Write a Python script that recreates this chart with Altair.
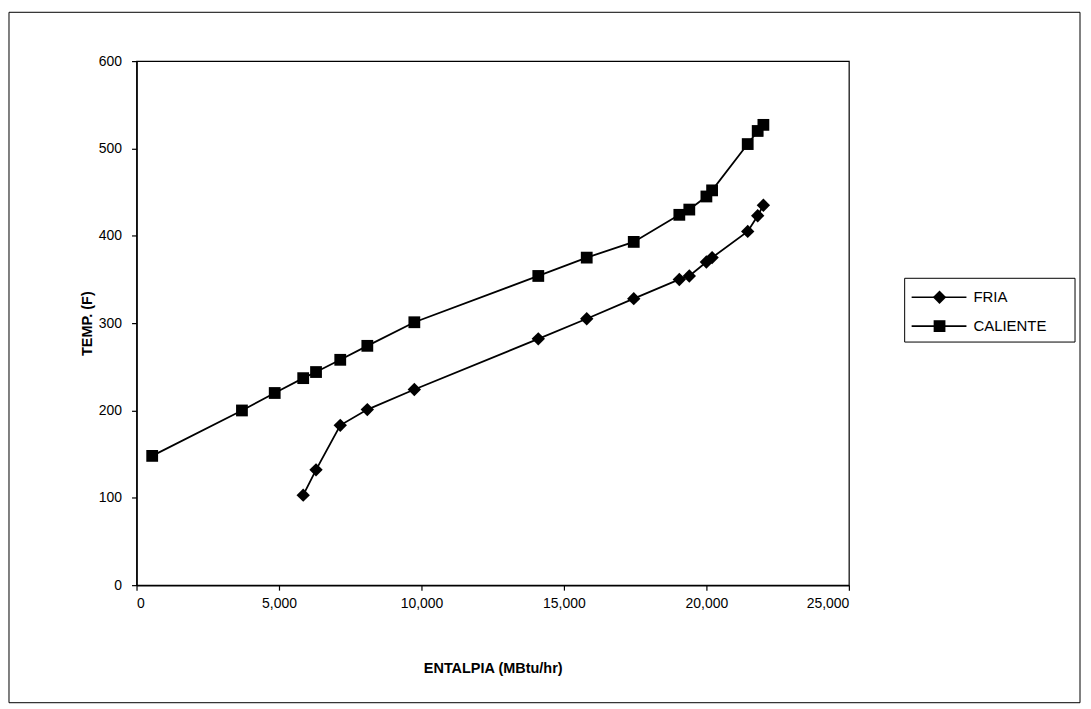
import altair as alt
import pandas as pd

series_names = ["FRIA", "CALIENTE"]

fria_x = [5850, 6300, 7150, 8100, 9750, 14100, 15800, 17450, 19050, 19400, 20000, 20200, 21450, 21800, 22000]
fria_y = [103, 132, 183, 201, 224, 282, 305, 328, 350, 354, 370, 375, 405, 423, 435]

cal_x = [550, 3700, 4850, 5850, 6300, 7150, 8100, 9750, 14100, 15800, 17450, 19050, 19400, 20000, 20200, 21450, 21800, 22000]
cal_y = [148, 200, 220, 237, 244, 258, 274, 301, 354, 375, 393, 424, 430, 445, 452, 505, 520, 527]

x_ticks = [0, 5000, 10000, 15000, 20000, 25000]
y_ticks = [0, 100, 200, 300, 400, 500, 600]

df = pd.concat([
    pd.DataFrame({"series": "FRIA", "h": fria_x, "t": fria_y}),
    pd.DataFrame({"series": "CALIENTE", "h": cal_x, "t": cal_y}),
], ignore_index=True)

FONT = "Liberation Sans"
shape_scale = alt.Scale(domain=series_names, range=["diamond", "square"])

x_enc = alt.X("h:Q", title="ENTALPIA (MBtu/hr)",
              scale=alt.Scale(domain=[0, 25000], nice=False),
              axis=alt.Axis(values=x_ticks, format=",d", labelPadding=6, titlePadding=52))
y_enc = alt.Y("t:Q", title="TEMP. (F)",
              scale=alt.Scale(domain=[0, 600], nice=False),
              axis=alt.Axis(values=y_ticks, labelPadding=10, titlePadding=4))

base = alt.Chart(df)
lines = base.mark_line(color="black", strokeWidth=1.8).encode(
    x=x_enc, y=y_enc, detail="series:N")
points = base.mark_point(filled=True, color="black", opacity=1).encode(
    x=x_enc, y=y_enc,
    shape=alt.Shape("series:N", scale=shape_scale, legend=None),
    size=alt.Size("series:N", scale=alt.Scale(domain=series_names, range=[180, 140]), legend=None))
main = alt.layer(lines, points)

one = pd.DataFrame({"k": [1]})
frame = alt.Chart(one).mark_rect(fill=None, stroke="black", strokeWidth=1).encode(
    x=alt.value(-128), x2=alt.value(947), y=alt.value(-49), y2=alt.value(644))
legend_box = alt.Chart(one).mark_rect(fill="white", stroke="black", strokeWidth=1).encode(
    x=alt.value(771), x2=alt.value(942), y=alt.value(218), y2=alt.value(282))

leg_df = pd.DataFrame({"series": series_names})
leg_y = alt.Y("series:N", scale=alt.Scale(type="point", domain=series_names, range=[237, 266], padding=0), axis=None)
leg_line = alt.Chart(leg_df).mark_rule(color="black", strokeWidth=1.6).encode(
    x=alt.value(778), x2=alt.value(833), y=leg_y)
leg_pt = alt.Chart(leg_df).mark_point(filled=True, color="black", opacity=1).encode(
    x=alt.value(806), y=leg_y,
    shape=alt.Shape("series:N", scale=shape_scale, legend=None),
    size=alt.Size("series:N", scale=alt.Scale(domain=series_names, range=[110, 80]), legend=None))
leg_txt = alt.Chart(leg_df).mark_text(align="left", baseline="middle", font=FONT,
                                      fontSize=15, color="black").encode(
    x=alt.value(840), y=leg_y, text="series:N")

legend = alt.layer(legend_box, leg_line, leg_pt, leg_txt)

chart = alt.layer(frame, main, legend).resolve_scale(y="independent").properties(
    width=715, height=526,
    autosize=alt.AutoSizeParams(type="none"),
    padding={"left": 129, "top": 52, "right": 235, "bottom": 120},
).configure_view(stroke="black", strokeWidth=1.2).configure_axis(
    domainColor="black", domainWidth=1.5, tickColor="black", tickSize=5, tickWidth=1.2,
    labelFont=FONT, labelFontSize=14, labelColor="black",
    titleFont=FONT, titleFontSize=14.5, titleFontWeight="bold", titleColor="black",
    grid=False,
)

chart.save("out.html", embed_options={"renderer": "svg", "actions": False})
